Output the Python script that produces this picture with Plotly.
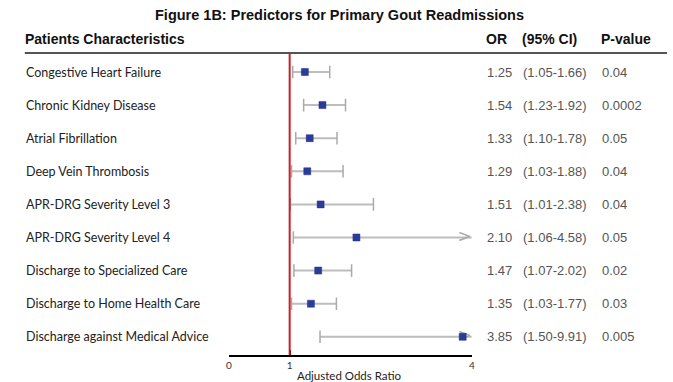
import plotly.graph_objects as go

labels = ["Congestive Heart Failure", "Chronic Kidney Disease", "Atrial Fibrillation",
          "Deep Vein Thrombosis", "APR-DRG Severity Level 3", "APR-DRG Severity Level 4",
          "Discharge to Specialized Care", "Discharge to Home Health Care",
          "Discharge against Medical Advice"]
odds = [1.25, 1.54, 1.33, 1.29, 1.51, 2.10, 1.47, 1.35, 3.85]
ci_low = [1.05, 1.23, 1.10, 1.03, 1.01, 1.06, 1.07, 1.03, 1.50]
ci_high = [1.66, 1.92, 1.78, 1.88, 2.38, 4.58, 2.02, 1.77, 9.91]
p_values = ["0.04", "0.0002", "0.05", "0.04", "0.04", "0.05", "0.02", "0.03", "0.005"]
x_ticks = [0, 1, 4]
x_max = 4

W, H = 673, 382
row0, step = 72, 33.1
plot_bottom = 355
rows = list(range(len(labels)))
y_top = -row0 / step
y_bot = (plot_bottom - row0) / step

def py(p):  # pixel y -> paper
    return 1 - p / H

GRAY = "#bdbdbd"
fig = go.Figure()

# CI lines
lx, ly = [], []
for i, lo, hi in zip(rows, ci_low, ci_high):
    lx += [lo, min(hi, x_max), None]
    ly += [i, i, None]
fig.add_trace(go.Scatter(x=lx, y=ly, mode="lines", line=dict(color=GRAY, width=2),
                         hoverinfo="skip", showlegend=False))
# caps
cx, cy = [], []
for i, lo, hi in zip(rows, ci_low, ci_high):
    cx.append(lo); cy.append(i)
    if hi <= x_max:
        cx.append(hi); cy.append(i)
fig.add_trace(go.Scatter(x=cx, y=cy, mode="markers",
                         marker=dict(symbol="line-ns", size=9, line=dict(color="#aaaaaa", width=1.5)),
                         hoverinfo="skip", showlegend=False))
# arrows for CI beyond the axis
ax_, ay_ = [], []
for i, hi in zip(rows, ci_high):
    if hi > x_max:
        ax_.append(x_max); ay_.append(i)
fig.add_trace(go.Scatter(x=ax_, y=ay_, mode="text", text=[">"] * len(ax_),
                         textposition="middle left",
                         textfont=dict(family="DejaVu Sans", size=17, color="#aaaaaa"),
                         hoverinfo="skip", showlegend=False))
# odds ratio markers
fig.add_trace(go.Scatter(x=odds, y=rows, mode="markers",
                         marker=dict(symbol="square", size=7, color="#2b3b9c",
                                     line=dict(color="#22307f", width=0.5)),
                         showlegend=False))

ann = []
lab_font = dict(family="Lato, Carlito, sans-serif", size=12.5, color="#222222")
val_font = dict(family="Liberation Sans, Arial, sans-serif", size=13, color="#555555")
hdr_font = dict(family="Liberation Sans, Arial, sans-serif", size=14, color="#111111")

for i, lab, o, lo, hi, p in zip(rows, labels, odds, ci_low, ci_high, p_values):
    ann.append(dict(x=21 / W, y=i, xref="paper", yref="y", text=lab, showarrow=False,
                    xanchor="left", yanchor="middle", font=lab_font))
    ann.append(dict(x=486 / W, y=i, xref="paper", yref="y", text=f"{o:.2f}", showarrow=False,
                    xanchor="left", yanchor="middle", font=val_font))
    ann.append(dict(x=523 / W, y=i, xref="paper", yref="y", text=f"({lo:.2f}-{hi:.2f})",
                    showarrow=False, xanchor="left", yanchor="middle", font=val_font))
    ann.append(dict(x=602 / W, y=i, xref="paper", yref="y", text=p, showarrow=False,
                    xanchor="left", yanchor="middle", font=val_font))

ann.append(dict(x=340 / W, y=py(15), xref="paper", yref="paper",
                text="<b>Figure 1B: Predictors for Primary Gout Readmissions</b>",
                showarrow=False, xanchor="center", yanchor="middle",
                font=dict(family="Liberation Sans, Arial, sans-serif", size=14.5, color="#111111")))
for txt, xp in [("Patients Characteristics", 20), ("OR", 485), ("(95% CI)", 522), ("P-value", 601)]:
    ann.append(dict(x=xp / W, y=py(39), xref="paper", yref="paper", text=f"<b>{txt}</b>",
                    showarrow=False, xanchor="left", yanchor="middle", font=hdr_font))
# x-axis title (kept fully inside the picture)
ann.append(dict(x=350 / W, y=py(375), xref="paper", yref="paper", text="Adjusted Odds Ratio",
                showarrow=False, xanchor="center", yanchor="middle",
                font=dict(family="Lato, sans-serif", size=11.5, color="#222222")))

shapes = [
    dict(type="line", xref="paper", yref="paper", x0=22 / W, x1=670 / W, y0=py(53), y1=py(53),
         line=dict(color="#555555", width=2)),
    dict(type="line", xref="x", yref="y", x0=1, x1=1, y0=(53 - row0) / step, y1=y_bot,
         line=dict(color="#c8202a", width=2)),
]

fig.update_layout(
    width=W, height=H, margin=dict(l=0, r=0, t=0, b=0),
    paper_bgcolor="white", plot_bgcolor="white",
    annotations=ann, shapes=shapes,
    xaxis=dict(domain=[228 / W, 473 / W], range=[0, x_max], tickvals=x_ticks,
               ticktext=[str(t) for t in x_ticks], showgrid=False, zeroline=False,
               showline=True, linecolor="black", linewidth=2, ticks="inside",
               ticklen=5, tickwidth=2, tickcolor="black",
               tickfont=dict(family="Lato, sans-serif", size=10, color="#333333")),
    yaxis=dict(domain=[(H - plot_bottom) / H, 1], range=[y_bot, y_top], visible=False,
               showgrid=False, zeroline=False),
)

fig.write_html("out.html", config={"displayModeBar": False},
               post_script="document.body.style.margin='0';document.body.style.overflow='hidden';")
